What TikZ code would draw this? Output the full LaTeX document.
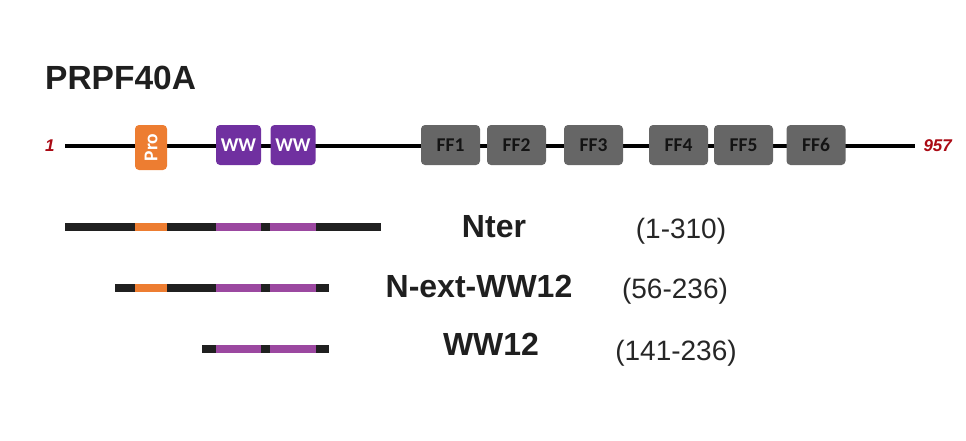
\documentclass[tikz,border=0pt]{standalone}
\usepackage{fontspec}
\setmainfont{Liberation Sans}
\newfontfamily\boxfont{Carlito}
\usepackage{tikz}
\usetikzlibrary{positioning}
\definecolor{proorange}{RGB}{237,125,49}
\definecolor{wwpurple}{RGB}{112,48,160}
\definecolor{barpurple}{RGB}{155,72,160}
\definecolor{ffgray}{RGB}{102,102,102}
\definecolor{endred}{RGB}{170,10,20}
\definecolor{barblack}{RGB}{32,32,32}
\tikzset{
x=1pt, y=-1pt, % one unit is one pixel of the figure
dombox/.style={rounded corners=4pt, inner sep=0pt, font=\boxfont\bfseries\fontsize{19.5}{21}\selectfont}, % common look of the boxes
ffbox/.style={dombox, fill=ffgray, text=black!92, minimum width=59pt, minimum height=40pt, text height=12.5pt, text depth=0pt},
wwbox/.style={dombox, fill=wwpurple, text=white, minimum width=45pt, minimum height=40pt, text height=12.5pt, text depth=0pt},
probox/.style={dombox, fill=proorange, text=white, minimum width=32pt, minimum height=45pt},
backbone/.style={line width=4pt, black},
frag/.style={line width=8pt, barblack}, % the fragments below
endlabel/.style={text=endred, font=\bfseries\itshape\fontsize{17}{19}\selectfont},
fragname/.style={anchor=base, font=\bfseries\fontsize{32}{36}\selectfont, text=black!88},
fragrange/.style={anchor=base, font=\fontsize{28}{32}\selectfont, text=black!85},
}
\begin{document}
\begin{tikzpicture}
\useasboundingbox (0,0) rectangle (966,440);
\node[anchor=base west, inner sep=0pt, font=\bfseries\fontsize{33.5}{38}\selectfont, text=black!88] (title) at (45,89) {PRPF40A};
% full length protein
\coordinate (start) at (65,146);
\coordinate (end) at (915,146);
\draw[backbone] (start) -- (end);
\node[endlabel, left=7pt of start] (first) {1};
\node[endlabel, right=5pt of end] (last) {957};
\node[probox] (pro) at (151,147.5) {\rotatebox{90}{Pro}};
\node[wwbox] (ww1) at (238.5,145) {WW};
\node[wwbox] (ww2) at (293,145) {WW};
\foreach \n/\x in {1/450.5, 2/516.5, 3/593.5, 4/678.5, 5/743.5, 6/816}
  \node[ffbox] (ff\n) at (\x,145) {FF\n};
% constructs
\coordinate (nters) at (65,227);
\coordinate (ntere) at (381,227);
\coordinate (nexts) at (115,288);
\coordinate (nexte) at (329,288);
\coordinate (wws) at (202,349);
\coordinate (wwe) at (329,349);
\draw[frag] (nters) -- (ntere);
\draw[frag] (nexts) -- (nexte);
\draw[frag] (wws) -- (wwe);
\foreach \r in {nter, next}
  \draw[frag, proorange] (pro.west |- \r s) -- (pro.east |- \r s);
\foreach \r in {nter, next, ww}
  \foreach \w in {ww1, ww2}
    \draw[frag, barpurple] (\w.west |- \r s) -- (\w.east |- \r s);
\node[fragname] (ntername) at (494,237) {Nter};
\node[fragname] (nextname) at (479,297) {N-ext-WW12};
\node[fragname] (wwname) at (491,355) {WW12};
\node[fragrange] (nterrange) at (681,238) {(1-310)};
\node[fragrange] (nextrange) at (675,298) {(56-236)};
\node[fragrange] (wwrange) at (676,360) {(141-236)};
\end{tikzpicture}
\end{document}
